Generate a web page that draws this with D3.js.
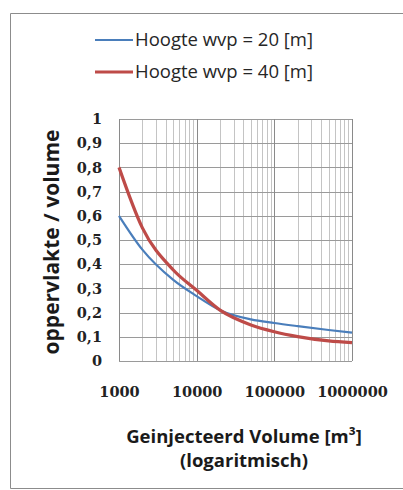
<!DOCTYPE html>
<html>
<head>
<meta charset="utf-8">
<script src="https://cdn.jsdelivr.net/npm/d3@7"></script>
<style>
  body { margin: 0; background: #fff; }
  svg { display: block; }
</style>
</head>
<body>
<script>
// data (x = geinjecteerd volume, log scale)
var volumes = [1000, 2000, 5000, 10000, 20000, 50000, 100000, 200000, 500000, 1000000];
var hoogte20 = [0.60, 0.46, 0.335, 0.268, 0.21, 0.172, 0.157, 0.144, 0.128, 0.117];
var hoogte40 = [0.80, 0.55, 0.376, 0.292, 0.21, 0.149, 0.121, 0.101, 0.083, 0.076];
var seriesNames = ["Hoogte wvp = 20 [m]", "Hoogte wvp = 40 [m]"];
var seriesColors = ["#4a7ebb", "#be4b48"];
var xTicks = [1000, 10000, 100000, 1000000];
var yTicks = [0, 0.1, 0.2, 0.3, 0.4, 0.5, 0.6, 0.7, 0.8, 0.9, 1];

var W = 403, H = 490;
var margin = {top: 119, right: 51, bottom: 129, left: 119},
    width = W - margin.left - margin.right,
    height = H - margin.top - margin.bottom;

var svg = d3.select("body").append("svg")
    .attr("width", W)
    .attr("height", H);

// outer frame (right edge runs off the picture)
svg.append("path")
    .attr("d", "M" + W + ",13.5H10.5V488.5H" + W)
    .attr("fill", "none")
    .attr("stroke", "#8c8c8c")
    .attr("stroke-width", 1);

var g = svg.append("g")
    .attr("transform", "translate(" + margin.left + "," + margin.top + ")");

var x = d3.scaleLog().domain([1000, 1000000]).range([0, width]);
var y = d3.scaleLinear().domain([0, 1]).range([height, 0]);

// minor vertical grid
var minor = [];
xTicks.slice(0, -1).forEach(function (d) {
    for (var k = 2; k <= 9; k++) minor.push(d * k);
});
g.selectAll(".minor")
    .data(minor)
    .enter().append("line")
    .attr("x1", function (d) { return Math.round(x(d)) + 0.5; })
    .attr("x2", function (d) { return Math.round(x(d)) + 0.5; })
    .attr("y1", 0).attr("y2", height)
    .attr("stroke", "#c4c4c4");

// horizontal grid
g.selectAll(".hgrid")
    .data(yTicks)
    .enter().append("line")
    .attr("x1", 0).attr("x2", width)
    .attr("y1", function (d) { return Math.round(y(d)) + 0.5; })
    .attr("y2", function (d) { return Math.round(y(d)) + 0.5; })
    .attr("stroke", "#9a9a9a");

// major vertical grid
g.selectAll(".major")
    .data(xTicks)
    .enter().append("line")
    .attr("x1", function (d) { return Math.round(x(d)) + 0.5; })
    .attr("x2", function (d) { return Math.round(x(d)) + 0.5; })
    .attr("y1", 0).attr("y2", height)
    .attr("stroke", "#8a8a8a");

// lines
var line = d3.line()
    .x(function (d) { return x(d[0]); })
    .y(function (d) { return y(d[1]); })
    .curve(d3.curveMonotoneX);

g.append("path")
    .datum(d3.zip(volumes, hoogte20))
    .attr("fill", "none")
    .attr("stroke", seriesColors[0])
    .attr("stroke-width", 2.2)
    .attr("d", line);

g.append("path")
    .datum(d3.zip(volumes, hoogte40))
    .attr("fill", "none")
    .attr("stroke", seriesColors[1])
    .attr("stroke-width", 3.2)
    .attr("stroke-linejoin", "round")
    .attr("d", line);

// axes (labels only, grid does the lines)
var tickFont = "'DejaVu Serif', serif";

var xAxis = g.append("g")
    .attr("transform", "translate(0," + height + ")")
    .call(d3.axisBottom(x).tickValues(xTicks).tickFormat(d3.format("d")).tickSize(0).tickPadding(26));
xAxis.select(".domain").remove();
xAxis.selectAll("text")
    .attr("font-family", tickFont)
    .attr("font-weight", "bold")
    .attr("font-size", 14.5)
    .attr("fill", "#222");

var yAxis = g.append("g")
    .call(d3.axisLeft(y).tickValues(yTicks)
        .tickFormat(function (d) { return String(d3.format(".1~f")(d)).replace(".", ","); })
        .tickSize(0).tickPadding(17));
yAxis.select(".domain").remove();
yAxis.selectAll("text")
    .attr("font-family", tickFont)
    .attr("font-weight", "bold")
    .attr("font-size", 14.5)
    .attr("fill", "#222");

// axis titles
svg.append("text")
    .attr("transform", "translate(59,242) rotate(-90)")
    .attr("text-anchor", "middle")
    .attr("font-family", "'Open Sans', sans-serif")
    .attr("font-weight", "bold")
    .attr("font-size", 21)
    .attr("fill", "#1a1a1a")
    .text("oppervlakte / volume");

svg.append("text")
    .attr("x", 244).attr("y", 443)
    .attr("text-anchor", "middle")
    .attr("font-family", "'Open Sans', sans-serif")
    .attr("font-weight", "bold")
    .attr("font-size", 18.5)
    .attr("fill", "#1a1a1a")
    .text("Geinjecteerd Volume [m³]");

svg.append("text")
    .attr("x", 244).attr("y", 467)
    .attr("text-anchor", "middle")
    .attr("font-family", "'Open Sans', sans-serif")
    .attr("font-weight", "bold")
    .attr("font-size", 18.5)
    .attr("fill", "#1a1a1a")
    .text("(logaritmisch)");

// legend
var legend = svg.selectAll(".legend")
    .data(seriesNames)
    .enter().append("g")
    .attr("transform", function (d, i) { return "translate(95," + (40 + i * 32) + ")"; });

legend.append("line")
    .attr("x1", 0).attr("x2", 38)
    .attr("stroke", function (d, i) { return seriesColors[i]; })
    .attr("stroke-width", function (d, i) { return i ? 3 : 2; });

legend.append("text")
    .attr("x", 40).attr("dy", "0.35em")
    .attr("font-family", "'Open Sans', sans-serif")
    .attr("font-size", 18.5)
    .attr("fill", "#262626")
    .text(function (d) { return d; });
</script>
</body>
</html>
